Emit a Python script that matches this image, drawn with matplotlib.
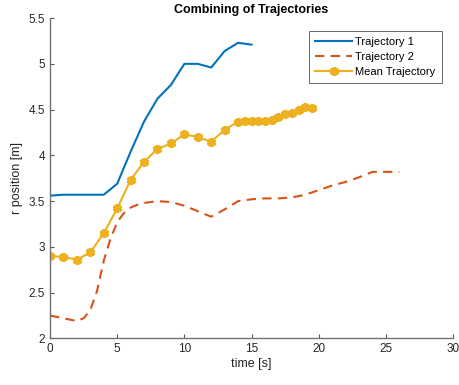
import matplotlib
matplotlib.use("Agg")
import matplotlib.pyplot as plt
from matplotlib.ticker import FuncFormatter

plt.rcParams['font.family'] = ['Liberation Sans', 'DejaVu Sans']

# trajectory 1 (solid blue)
t1 = list(range(16))
r1 = [3.56, 3.57, 3.57, 3.57, 3.57, 3.69, 4.04, 4.37, 4.62, 4.77,
      5.00, 5.00, 4.96, 5.14, 5.23, 5.21]

# trajectory 2 (dashed orange)
t2 = [0, 1, 2, 2.5, 3, 3.5, 4, 4.5, 5, 5.5, 6, 6.5, 7, 8, 9, 10, 11, 12, 13,
      14, 15, 16, 17, 18, 19, 20, 21, 22, 23, 24, 25, 26]
r2 = [2.25, 2.22, 2.19, 2.22, 2.31, 2.52, 2.85, 3.09, 3.27, 3.37, 3.43, 3.46,
      3.48, 3.50, 3.49, 3.45, 3.39, 3.33, 3.41, 3.50, 3.52, 3.53, 3.53, 3.54,
      3.57, 3.62, 3.67, 3.71, 3.76, 3.82, 3.82, 3.82]

# mean trajectory (yellow with markers)
tm = [0, 1, 2, 3, 4, 5, 6, 7, 8, 9, 10, 11, 12, 13, 14, 14.5, 15, 15.5,
      16, 16.5, 17, 17.5, 18, 18.5, 19, 19.5]
rm = [2.90, 2.89, 2.86, 2.94, 3.15, 3.42, 3.73, 3.93, 4.07, 4.13, 4.23, 4.20,
      4.15, 4.28, 4.37, 4.375, 4.38, 4.38, 4.38, 4.39, 4.42, 4.45, 4.46, 4.50,
      4.53, 4.52]

fig = plt.figure(figsize=(4.59, 3.85), dpi=100)
ax = fig.add_axes([0.109, 0.121, 0.878, 0.832])

ax.plot(t1, r1, color='#0072BD', lw=1.5, label='Trajectory 1')
ax.plot(t2, r2, color='#D95319', lw=1.5, ls=(0, (4.5, 3)), label='Trajectory 2')
ax.plot(tm, rm, color='#EDB120', lw=1.5, marker=(6, 2, 0), ms=6.5, mew=2.4,
        label='Mean Trajectory')

ax.set_xlim(0, 30)
ax.set_ylim(2, 5.5)
ax.set_xticks(range(0, 31, 5))
ax.set_yticks([2, 2.5, 3, 3.5, 4, 4.5, 5, 5.5])
ax.yaxis.set_major_formatter(FuncFormatter(lambda v, p: '%g' % v))
ax.tick_params(direction='in', length=3, labelsize=8.5, color='0.35',
               labelcolor='#262626', width=0.8)
for s in ['top', 'right']:
    ax.spines[s].set_visible(False)
for s in ['left', 'bottom']:
    ax.spines[s].set_color('0.45')
    ax.spines[s].set_linewidth(1.0)

ax.set_xlabel('time [s]', fontsize=9, color='#262626', labelpad=2)
ax.set_ylabel('r position [m]', fontsize=9, color='#262626', labelpad=4)
ax.set_title('Combining of Trajectories', fontsize=9, fontweight='bold', pad=4)

leg = ax.legend(loc='upper right', bbox_to_anchor=(0.972, 0.96), fontsize=8,
                frameon=True, fancybox=False, edgecolor='#262626',
                borderpad=0.55, labelspacing=0.45, handlelength=3.3,
                handletextpad=0.3, borderaxespad=0)
leg.get_frame().set_linewidth(0.6)

fig.savefig('out.png', dpi=100)
